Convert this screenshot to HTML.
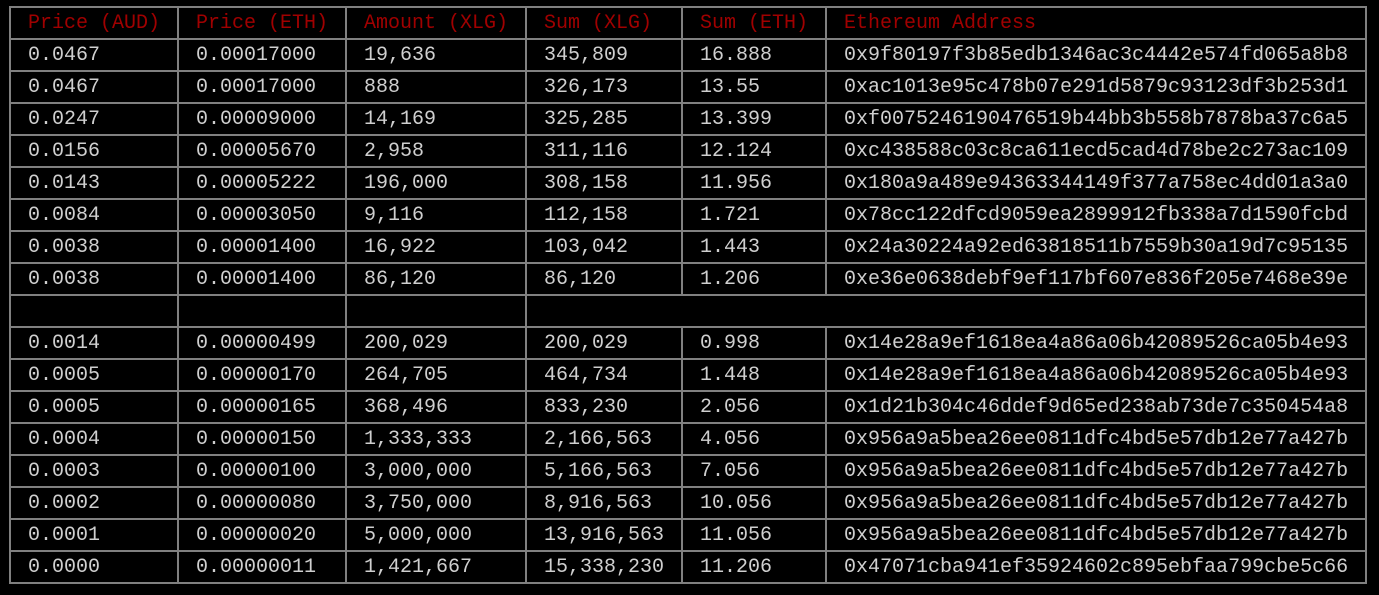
<!DOCTYPE html>
<html><head><meta charset="utf-8"><style>
html,body{margin:0;padding:0;background:#000;width:1379px;height:595px;overflow:hidden}
table{position:absolute;left:9px;top:6px;border-collapse:collapse;table-layout:fixed;width:1358px}
td,th{border:2px solid #808080;height:28px;padding:2px 0 0 17px;font-family:"Liberation Mono",monospace;font-size:20px;color:#cfcfcf;text-align:left;font-weight:normal;white-space:nowrap;overflow:hidden;line-height:28px}
th{color:#a00000}
</style></head><body>
<table>
<colgroup><col style="width:168px"><col style="width:168px"><col style="width:180px"><col style="width:156px"><col style="width:144px"><col style="width:540px"></colgroup>
<thead><tr>
<th>Price (AUD)</th>
<th>Price (ETH)</th>
<th>Amount (XLG)</th>
<th>Sum (XLG)</th>
<th>Sum (ETH)</th>
<th>Ethereum Address</th>
</tr></thead>
<tbody>
<tr><td>0.0467</td><td>0.00017000</td><td>19,636</td><td>345,809</td><td>16.888</td><td>0x9f80197f3b85edb1346ac3c4442e574fd065a8b8</td></tr>
<tr><td>0.0467</td><td>0.00017000</td><td>888</td><td>326,173</td><td>13.55</td><td>0xac1013e95c478b07e291d5879c93123df3b253d1</td></tr>
<tr><td>0.0247</td><td>0.00009000</td><td>14,169</td><td>325,285</td><td>13.399</td><td>0xf0075246190476519b44bb3b558b7878ba37c6a5</td></tr>
<tr><td>0.0156</td><td>0.00005670</td><td>2,958</td><td>311,116</td><td>12.124</td><td>0xc438588c03c8ca611ecd5cad4d78be2c273ac109</td></tr>
<tr><td>0.0143</td><td>0.00005222</td><td>196,000</td><td>308,158</td><td>11.956</td><td>0x180a9a489e94363344149f377a758ec4dd01a3a0</td></tr>
<tr><td>0.0084</td><td>0.00003050</td><td>9,116</td><td>112,158</td><td>1.721</td><td>0x78cc122dfcd9059ea2899912fb338a7d1590fcbd</td></tr>
<tr><td>0.0038</td><td>0.00001400</td><td>16,922</td><td>103,042</td><td>1.443</td><td>0x24a30224a92ed63818511b7559b30a19d7c95135</td></tr>
<tr><td>0.0038</td><td>0.00001400</td><td>86,120</td><td>86,120</td><td>1.206</td><td>0xe36e0638debf9ef117bf607e836f205e7468e39e</td></tr>
<tr><td></td><td></td><td></td><td colspan="3"></td></tr>
<tr><td>0.0014</td><td>0.00000499</td><td>200,029</td><td>200,029</td><td>0.998</td><td>0x14e28a9ef1618ea4a86a06b42089526ca05b4e93</td></tr>
<tr><td>0.0005</td><td>0.00000170</td><td>264,705</td><td>464,734</td><td>1.448</td><td>0x14e28a9ef1618ea4a86a06b42089526ca05b4e93</td></tr>
<tr><td>0.0005</td><td>0.00000165</td><td>368,496</td><td>833,230</td><td>2.056</td><td>0x1d21b304c46ddef9d65ed238ab73de7c350454a8</td></tr>
<tr><td>0.0004</td><td>0.00000150</td><td>1,333,333</td><td>2,166,563</td><td>4.056</td><td>0x956a9a5bea26ee0811dfc4bd5e57db12e77a427b</td></tr>
<tr><td>0.0003</td><td>0.00000100</td><td>3,000,000</td><td>5,166,563</td><td>7.056</td><td>0x956a9a5bea26ee0811dfc4bd5e57db12e77a427b</td></tr>
<tr><td>0.0002</td><td>0.00000080</td><td>3,750,000</td><td>8,916,563</td><td>10.056</td><td>0x956a9a5bea26ee0811dfc4bd5e57db12e77a427b</td></tr>
<tr><td>0.0001</td><td>0.00000020</td><td>5,000,000</td><td>13,916,563</td><td>11.056</td><td>0x956a9a5bea26ee0811dfc4bd5e57db12e77a427b</td></tr>
<tr><td>0.0000</td><td>0.00000011</td><td>1,421,667</td><td>15,338,230</td><td>11.206</td><td>0x47071cba941ef35924602c895ebfaa799cbe5c66</td></tr>
</tbody></table>
</body></html>
